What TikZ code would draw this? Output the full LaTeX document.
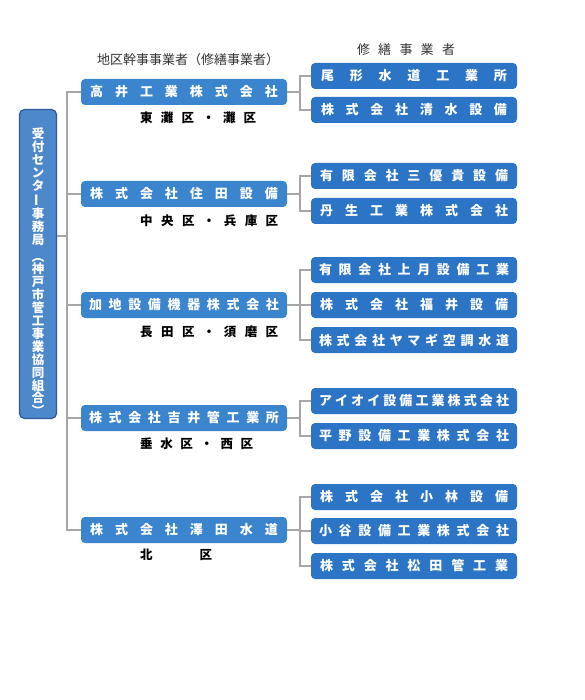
\documentclass[tikz,border=0pt]{standalone}
\usepackage{fontspec}
\setmainfont{Noto Sans CJK JP}
\definecolor{lvblue}{HTML}{3B84CE}
\definecolor{rblue}{HTML}{2C74C5}
\definecolor{lfill}{HTML}{4D88CB}
\definecolor{lborder}{HTML}{2A5A9A}
\definecolor{linegray}{HTML}{A6A6A6}
\definecolor{hdrgray}{HTML}{333333}
\makeatletter
\def\spreadit#1{\sp@first#1\relax}
\def\sp@first#1{#1\sp@rest}
\def\sp@rest#1{\ifx\relax#1\else\hfill#1\expandafter\sp@rest\fi}
\makeatother
\newcommand\spbox[2]{\makebox[#1pt][s]{\spreadit{#2}}}
\begin{document}
\begin{tikzpicture}[x=1pt,y=-1pt,
  lvone/.style={rounded corners=4pt, fill=lvblue, minimum width=206pt, minimum height=26pt, inner sep=0pt, text=white, font=\bfseries\fontsize{13}{13}\selectfont},
  rbox/.style={rounded corners=4pt, fill=rblue, minimum width=206pt, minimum height=26pt, inner sep=0pt, text=white, font=\bfseries\fontsize{13}{13}\selectfont},
  lbox/.style={rounded corners=5pt, fill=lfill, draw=lborder, line width=1.2pt, minimum width=37pt, minimum height=309pt, inner sep=0pt},
  vtext/.style={text=white, align=center, inner sep=0pt, font=\bfseries\fontsize{12.5}{12.9}\selectfont},
  link/.style={draw=linegray, line width=1.6pt},
  dist/.style={anchor=west, inner sep=0pt, text=black, font=\bfseries\fontsize{12.5}{13}\selectfont},
  hdr/.style={inner sep=0pt, text=hdrgray, font=\fontsize{13}{13}\selectfont}]
\useasboundingbox (0,0) rectangle (584,700);
\fill[white] (0,0) rectangle (584,700);

% headers
\node[hdr] (h1) at (188,60) {地区幹事事業者（修繕事業者）};
\node[hdr] (h2) at (406,50) {\spbox{98}{修繕事業者}};

% center box
\node[lbox] (c) at (38,264) {};
\node[vtext] (ct) at (38,272) {受\\付\\セ\\ン\\タ\\\rotatebox[origin=c]{90}{ー}\\事\\務\\局\\[4pt]︵\\神\\戸\\市\\管\\工\\事\\業\\協\\同\\組\\合\\︶};

% level one
\node[lvone] (a1) at (184,92)  {\spbox{188}{高井工業株式会社}};
\node[lvone] (a2) at (184,194) {\spbox{188}{株式会社住田設備}};
\node[lvone] (a3) at (184,305) {\spbox{190}{加地設備機器株式会社}};
\node[lvone] (a4) at (184,418) {\spbox{190}{株式会社吉井管工業所}};
\node[lvone] (a5) at (184,530) {\spbox{188}{株式会社澤田水道}};

% districts
\node[dist] (d1) at (140,118) {\spbox{116}{東灘区・灘区}};
\node[dist] (d2) at (140,221) {\spbox{138}{中央区・兵庫区}};
\node[dist] (d3) at (140,332) {\spbox{138}{長田区・須磨区}};
\node[dist] (d4) at (140,444) {\spbox{113}{垂水区・西区}};
\node[dist] (d5) at (140,555) {\spbox{72}{北区}};

% right boxes
\node[rbox] (r11) at (414,76)  {\spbox{186}{尾形水道工業所}};
\node[rbox] (r12) at (414,110) {\spbox{186}{株式会社清水設備}};
\node[rbox] (r21) at (414,176) {\spbox{188}{有限会社三優貴設備}};
\node[rbox] (r22) at (414,211) {\spbox{188}{丹生工業株式会社}};
\node[rbox] (r31) at (414,270) {\spbox{190}{有限会社上月設備工業}};
\node[rbox] (r32) at (414,305) {\spbox{188}{株式会社福井設備}};
\node[rbox] (r33) at (414,340) {\spbox{190}{株式会社ヤマギ空調水道}};
\node[rbox] (r41) at (414,401) {\spbox{190}{アイオイ設備工業株式会社}};
\node[rbox] (r42) at (414,436) {\spbox{190}{平野設備工業株式会社}};
\node[rbox] (r51) at (414,497) {\spbox{188}{株式会社小林設備}};
\node[rbox] (r52) at (414,531) {\spbox{190}{小谷設備工業株式会社}};
\node[rbox] (r53) at (414,566) {\spbox{188}{株式会社松田管工業}};

% spine
\coordinate (sp) at (67,236);
\draw[link] (a1.west) -- ++(-14,0) |- (a5.west);
\draw[link] (a2.west) -- ++(-14,0);
\draw[link] (a3.west) -- ++(-14,0);
\draw[link] (a4.west) -- ++(-14,0);
\draw[link] (c.east |- sp) -- (sp);

% right brackets
\foreach \a in {a1,a2,a3,a4,a5} \draw[link] (\a.east) -- ++(13,0);
\draw[link] (r11.west) -- ++(-11,0) |- (r12.west);
\draw[link] (r21.west) -- ++(-11,0) |- (r22.west);
\draw[link] (r31.west) -- ++(-11,0) |- (r33.west);
\draw[link] (r32.west) -- ++(-11,0);
\draw[link] (r41.west) -- ++(-11,0) |- (r42.west);
\draw[link] (r51.west) -- ++(-11,0) |- (r53.west);
\draw[link] (r52.west) -- ++(-11,0);
\end{tikzpicture}
\end{document}
